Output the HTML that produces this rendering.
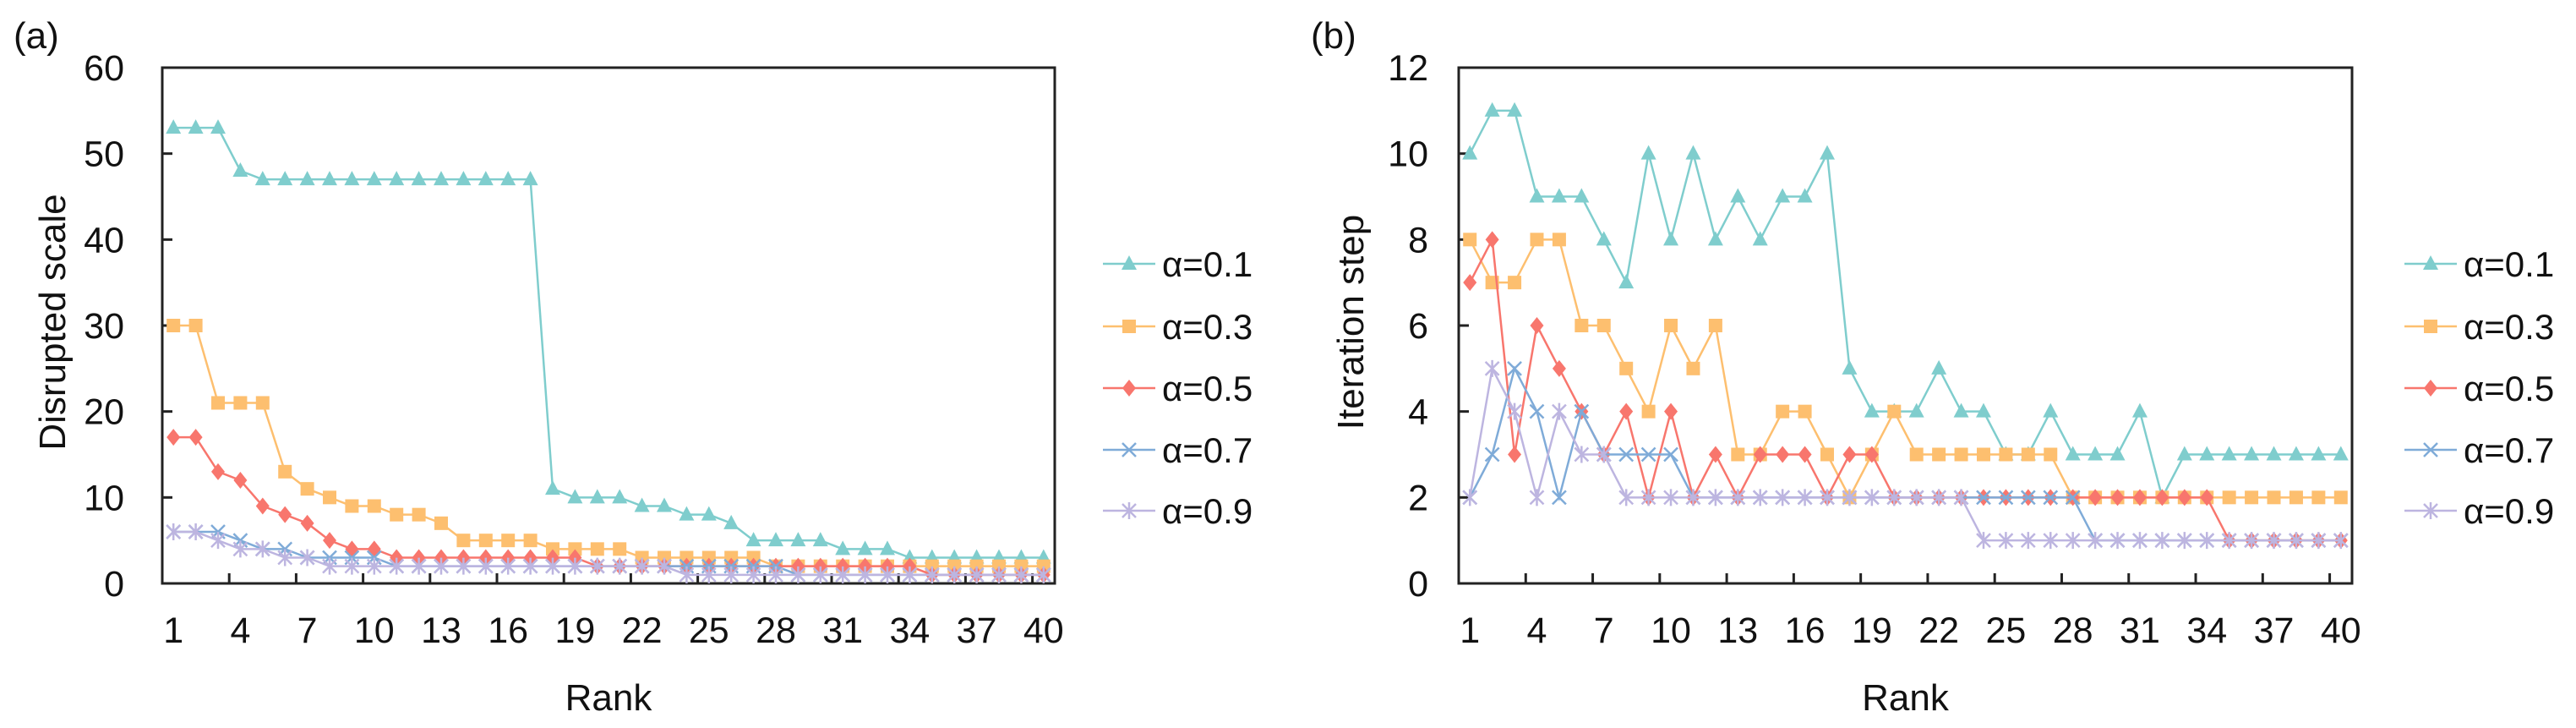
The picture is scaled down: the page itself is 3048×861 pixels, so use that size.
<!DOCTYPE html>
<html><head><meta charset="utf-8">
<style>
html,body{margin:0;padding:0;background:#fff;}
svg{display:block;font-family:"Liberation Sans",Arial,sans-serif;}
</style></head>
<body>
<svg id="chart" width="3048" height="861" viewBox="0 0 3048 861" xmlns="http://www.w3.org/2000/svg">
<rect x="0" y="0" width="3048" height="861" fill="#fff"/>
</svg>
<script>
const ranks = Array.from({length:40},(_,i)=>i+1);
const seriesNames = ["α=0.1","α=0.3","α=0.5","α=0.7","α=0.9"];
// Panel (a) disrupted scale
const a01 = [53,53,53,48,47,47,47,47,47,47,47,47,47,47,47,47,47,11,10,10,10,9,9,8,8,7,5,5,5,5,4,4,4,3,3,3,3,3,3,3];
const a03 = [30,30,21,21,21,13,11,10,9,9,8,8,7,5,5,5,5,4,4,4,4,3,3,3,3,3,3,2,2,2,2,2,2,2,2,2,2,2,2,2];
const a05 = [17,17,13,12,9,8,7,5,4,4,3,3,3,3,3,3,3,3,3,2,2,2,2,2,2,2,2,2,2,2,2,2,2,2,1,1,1,1,1,1];
const a07 = [6,6,6,5,4,4,3,3,3,3,2,2,2,2,2,2,2,2,2,2,2,2,2,2,2,2,2,2,1,1,1,1,1,1,1,1,1,1,1,1];
const a09 = [6,6,5,4,4,3,3,2,2,2,2,2,2,2,2,2,2,2,2,2,2,2,2,1,1,1,1,1,1,1,1,1,1,1,1,1,1,1,1,1];
// Panel (b) iteration step
const b01 = [10,11,11,9,9,9,8,7,10,8,10,8,9,8,9,9,10,5,4,4,4,5,4,4,3,3,4,3,3,3,4,2,3,3,3,3,3,3,3,3];
const b03 = [8,7,7,8,8,6,6,5,4,6,5,6,3,3,4,4,3,2,3,4,3,3,3,3,3,3,3,2,2,2,2,2,2,2,2,2,2,2,2,2];
const b05 = [7,8,3,6,5,4,3,4,2,4,2,3,2,3,3,3,2,3,3,2,2,2,2,2,2,2,2,2,2,2,2,2,2,2,1,1,1,1,1,1];
const b07 = [2,3,5,4,2,4,3,3,3,3,2,2,2,2,2,2,2,2,2,2,2,2,2,2,2,2,2,2,1,1,1,1,1,1,1,1,1,1,1,1];
const b09 = [2,5,4,2,4,3,3,2,2,2,2,2,2,2,2,2,2,2,2,2,2,2,2,1,1,1,1,1,1,1,1,1,1,1,1,1,1,1,1,1];
const aTicks = [0,10,20,30,40,50,60];
const bTicks = [0,2,4,6,8,10,12];
const xTickLabels = [1,4,7,10,13,16,19,22,25,28,31,34,37,40];

const colors = ["#7fcdcd","#fdbf6f","#f8766d","#7fabd8","#bdb5e0"];
const markers = ["tri","sq","dia","x","star"];
const NS = "http://www.w3.org/2000/svg";
const svg = document.getElementById("chart");
function mk(tag, attrs, parent){const e=document.createElementNS(NS,tag);for(const k in attrs)e.setAttribute(k,attrs[k]);(parent||svg).appendChild(e);return e;}

function marker(g, type, cx, cy, col){
  let m;
  if(type==="tri") m=mk("polygon",{points:`${cx},${cy-10} ${cx-9},${cy+7} ${cx+9},${cy+7}`,fill:col},g);
  else if(type==="sq") m=mk("rect",{x:cx-8,y:cy-8,width:16,height:16,fill:col},g);
  else if(type==="dia") m=mk("polygon",{points:`${cx},${cy-10} ${cx+8},${cy} ${cx},${cy+10} ${cx-8},${cy}`,fill:col},g);
  else if(type==="x"){m=mk("path",{d:`M${cx-8},${cy-8}L${cx+8},${cy+8}M${cx+8},${cy-8}L${cx-8},${cy+8}`,stroke:col,"stroke-width":2.5,fill:"none"},g);}
  else {m=mk("path",{d:`M${cx-8},${cy-8}L${cx+8},${cy+8}M${cx+8},${cy-8}L${cx-8},${cy+8}M${cx},${cy-10}L${cx},${cy+10}`,stroke:col,"stroke-width":2.5,fill:"none"},g);}
  return m;
}

function panel(opt){
  const {L,R,T,B,yMax,ticks,series,label,labelX,yTitle,yTitleX,tickRight,legX,id}=opt;
  const g=mk("g",{});
  
  
  const band=(R-L)/ranks.length;
  const xs=r=>L+band*(r-0.5);
  const ys=v=>B-(v/yMax)*(B-T);
  const frame=mk("rect",{x:L,y:T,width:R-L,height:B-T,fill:"none",stroke:"#222","stroke-width":3},g);
  
  
  // y ticks
  ticks.forEach(t=>{
    const y=ys(t);
    const tl=mk("line",{x1:L,x2:L+12,y1:y,y2:y,stroke:"#222","stroke-width":3},g);
    
    
    const tx=mk("text",{x:tickRight,y:y+15,"text-anchor":"end","font-size":43,fill:"#111"},g);
    tx.textContent=t;
    
    
  });
  // x ticks between every 3 categories
  for(let k=3;k<ranks.length;k+=3){
    const x=L+band*k;
    const tl=mk("line",{x1:x,x2:x,y1:B,y2:B-12,stroke:"#222","stroke-width":3},g);
    
    
  }
  xTickLabels.forEach(r=>{
    const tx=mk("text",{x:xs(r),y:760,"text-anchor":"middle","font-size":43,fill:"#111"},g);
    tx.textContent=r;
    
    
  });
  const xt=mk("text",{x:(L+R)/2,y:840,"text-anchor":"middle","font-size":44,fill:"#111"},g);
  xt.textContent="Rank";
  
  
  const yt=mk("text",{x:yTitleX,y:381,"text-anchor":"middle","font-size":44,fill:"#111",transform:`rotate(-90 ${yTitleX} 381)`},g);
  yt.textContent=yTitle;
  
  
  const pl=mk("text",{x:labelX,y:57,"font-size":44,fill:"#111"},g);
  pl.textContent=label;
  
  
  // series
  series.forEach((vals,si)=>{
    const sg=mk("g",{},g);
    
    
    const pts=vals.map((v,i)=>xs(ranks[i])+","+ys(v)).join(" ");
    const ln=mk("polyline",{points:pts,fill:"none",stroke:colors[si],"stroke-width":2.5},sg);
    
    
    vals.forEach((v,i)=>{
      const m=marker(sg,markers[si],xs(ranks[i]),ys(v),colors[si]);
      
      
    });
  });
  // legend
  const legY=[312,386,459,532,604];
  seriesNames.forEach((n,si)=>{
    const lg=mk("g",{},g);
    
    
    mk("line",{x1:legX,x2:legX+62,y1:legY[si],y2:legY[si],stroke:colors[si],"stroke-width":2.5},lg);
    marker(lg,markers[si],legX+31,legY[si],colors[si]);
    const t=mk("text",{x:legX+70,y:legY[si]+15,"font-size":42,fill:"#111"},lg);
    t.textContent=n;
  });
}

panel({id:"a",L:192,R:1248,T:80,B:690,yMax:60,ticks:aTicks,series:[a01,a03,a05,a07,a09],label:"(a)",labelX:16,yTitle:"Disrupted scale",yTitleX:77,tickRight:147,legX:1305});
panel({id:"b",L:1726,R:2783,T:80,B:690,yMax:12,ticks:bTicks,series:[b01,b03,b05,b07,b09],label:"(b)",labelX:1551,yTitle:"Iteration step",yTitleX:1613,tickRight:1690,legX:2845});
</script>
</body></html>
